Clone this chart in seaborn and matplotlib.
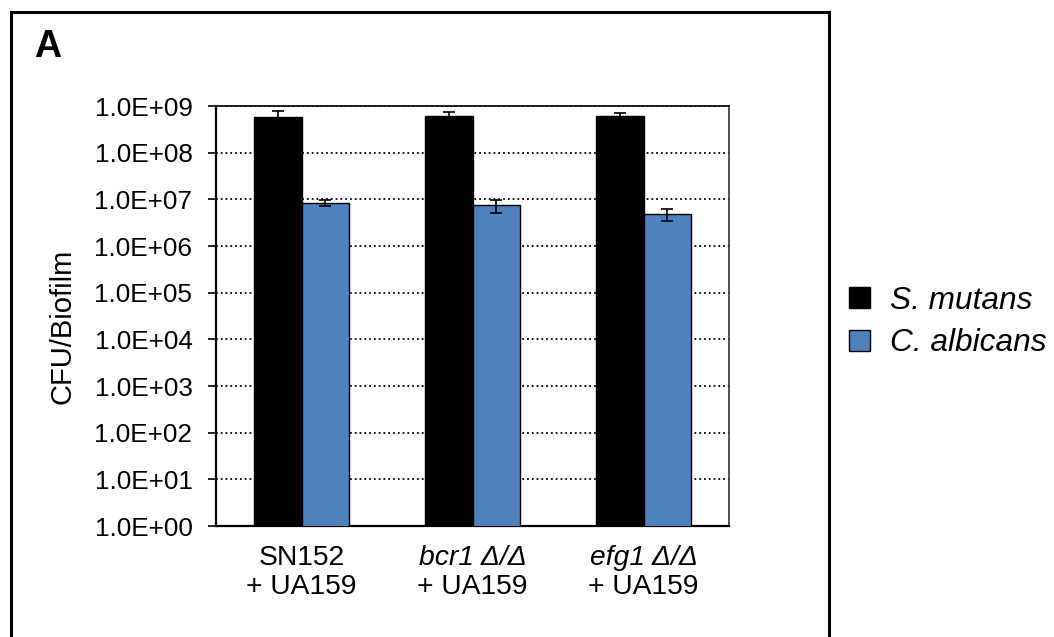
import numpy as np
import pandas as pd
import matplotlib
matplotlib.use('Agg')
import matplotlib.pyplot as plt
from matplotlib.patches import Rectangle
from matplotlib.ticker import FixedLocator, FuncFormatter, NullLocator
import seaborn as sns

# veriler
strains = ['SN152', 'bcr1', 'efg1']
line1 = ['SN152', 'bcr1 Δ/Δ', 'efg1 Δ/Δ']
line1_italic = [False, True, True]
line2 = ['+ UA159', '+ UA159', '+ UA159']
species = ['S. mutans', 'C. albicans']
s_mutans = [5.9e8, 6.1e8, 6.0e8]
s_mutans_err = [1.8e8, 1.4e8, 1.2e8]
c_albicans = [8.5e6, 7.4e6, 4.8e6]
c_albicans_err = [1.4e6, 2.4e6, 1.35e6]
colors = ['#000000', '#4F81BD']

df = pd.DataFrame({
    'strain': strains * 2,
    'species': [species[0]] * 3 + [species[1]] * 3,
    'cfu': s_mutans + c_albicans,
})

sns.set_style('white')
plt.rcParams['font.family'] = ['Liberation Sans', 'DejaVu Sans']
plt.rcParams['text.color'] = 'black'
plt.rcParams['axes.labelcolor'] = 'black'
plt.rcParams['xtick.color'] = 'black'
plt.rcParams['ytick.color'] = 'black'
fs = 18.8       # y eksen değerleri
fs_x = 20.3     # x etiketleri
fs_lab = 21     # y eksen başlığı
fs_leg = 22.8   # lejant

fig = plt.figure(figsize=(10.54, 6.37), dpi=100)
ax = fig.add_axes([216 / 1054, 1 - 526 / 637, 513 / 1054, 420 / 637])

sns.barplot(data=df, x='strain', y='cfu', hue='species', hue_order=species,
            palette=colors, saturation=1, width=0.56, edgecolor='black',
            linewidth=1, errorbar=None, ax=ax, zorder=3)

ax.set_yscale('log')
ax.set_ylim(1, 1e9)
ax.set_xlim(-0.5, 2.5)

# hata çubukları
for cont, err in zip(ax.containers, [s_mutans_err, c_albicans_err]):
    xs = [b.get_x() + b.get_width() / 2 for b in cont]
    hs = [b.get_height() for b in cont]
    ax.errorbar(xs, hs, yerr=err, fmt='none', ecolor='black',
                elinewidth=1.2, capsize=4.5, capthick=1.2, zorder=4)

decades = [10.0 ** k for k in range(0, 10)]
ax.yaxis.set_major_locator(FixedLocator(decades))
ax.yaxis.set_minor_locator(NullLocator())
ax.yaxis.set_major_formatter(FuncFormatter(lambda v, p: f'{v:.1E}'))
ax.tick_params(axis='y', which='major', direction='out', length=6, width=1.2,
               pad=11, labelsize=fs, left=True, color='black', labelcolor='black')
ax.tick_params(axis='x', bottom=False, labelbottom=False)
ax.yaxis.grid(True, linestyle=':', color='black', linewidth=1.3)
ax.set_axisbelow(True)

ax.spines['left'].set_linewidth(1.6)
ax.spines['bottom'].set_linewidth(1.6)
ax.spines['left'].set_color('black')
ax.spines['bottom'].set_color('black')
ax.spines['top'].set_linewidth(1.2)
ax.spines['top'].set_color('black')
ax.spines['right'].set_linewidth(1.2)
ax.spines['right'].set_color('#303030')

ax.set_xlabel('')
ax.set_ylabel('CFU/Biofilm', fontsize=fs_lab, color='black')
ax.yaxis.set_label_coords(-0.272, 0.476)

# x etiketleri (iki satır, kısmen italik)
for i in range(len(strains)):
    ax.annotate(line1[i], xy=(i, 0), xycoords=('data', 'axes fraction'),
                xytext=(0, -39), textcoords='offset pixels', ha='center',
                va='baseline', fontsize=fs_x, color='black',
                fontstyle='italic' if line1_italic[i] else 'normal')
    ax.annotate(line2[i], xy=(i, 0), xycoords=('data', 'axes fraction'),
                xytext=(0, -68), textcoords='offset pixels', ha='center',
                va='baseline', fontsize=fs_x, color='black')

# lejant
handles, labels = ax.get_legend_handles_labels()
leg = ax.legend(handles, labels, loc='center left',
                bbox_to_anchor=(849 / 1054, 1 - 322 / 637),
                bbox_transform=fig.transFigure, frameon=False,
                fontsize=fs_leg, handlelength=0.65, handleheight=0.65,
                handletextpad=0.65, labelspacing=0.4, borderpad=0,
                borderaxespad=0)
for t in leg.get_texts():
    t.set_fontstyle('italic')
    t.set_color('black')

# dış çerçeve ve panel harfi
fig.add_artist(Rectangle((11 / 1054, -0.02), (829 - 11) / 1054, 1 - 12 / 637 + 0.02,
                         transform=fig.transFigure, fill=False,
                         edgecolor='black', linewidth=2.2))
fig.text(34 / 1054, 1 - 57 / 637, 'A', fontsize=27, fontweight='bold',
         va='baseline', ha='left', color='black')

fig.savefig('out.png', dpi=100)
